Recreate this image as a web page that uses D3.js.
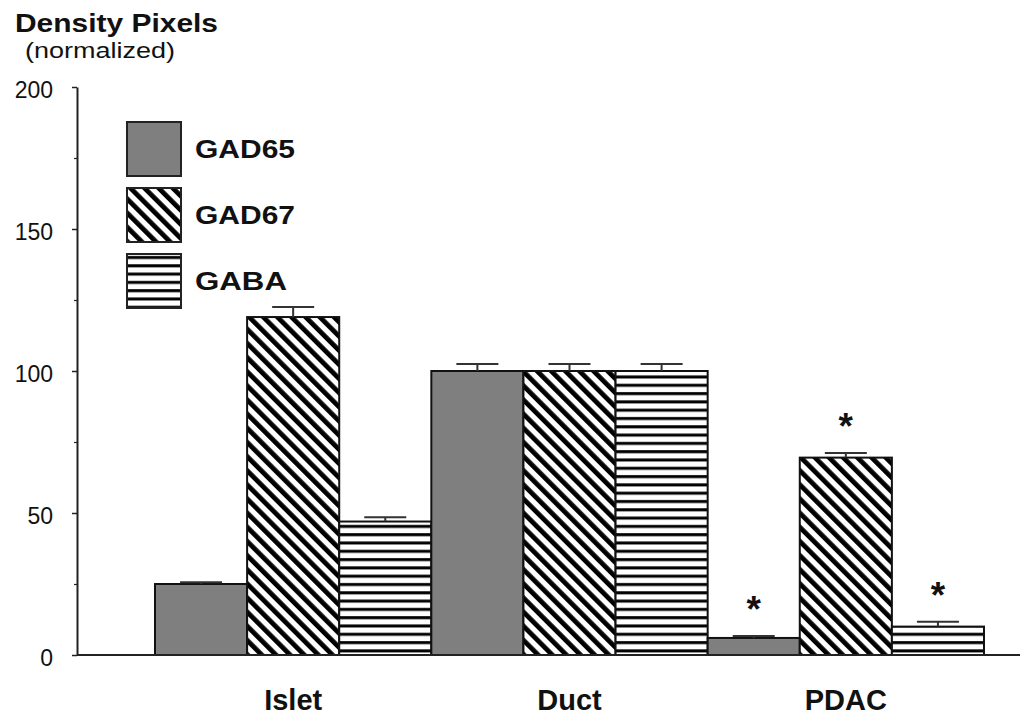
<!DOCTYPE html>
<html>
<head>
<meta charset="utf-8">
<script src="https://cdn.jsdelivr.net/npm/d3@7"></script>
<style>
  body { margin: 0; background: #fff; }
  text { font-family: "Liberation Sans", Arial, sans-serif; fill: #111; }
</style>
</head>
<body>
<div id="chart"></div>
<script>
// Chart data
const categories = ["Islet", "Duct", "PDAC"];
const seriesNames = ["GAD65", "GAD67", "GABA"];
const gad65 = [25, 100, 6];
const gad67 = [119, 100, 69.5];
const gaba = [47, 100, 10];
const gad65Err = [0.6, 2.5, 0.7];
const gad67Err = [3.5, 2.5, 1.6];
const gabaErr = [1.5, 2.5, 1.7];
const gad65Sig = [false, false, true];
const gad67Sig = [false, false, true];
const gabaSig = [false, false, true];
const yTicks = [0, 50, 100, 150, 200];
const yMinorTicks = [25, 75, 125, 175];

const width = 1026;
const height = 717;

const svg = d3.select("#chart")
    .append("svg")
    .attr("width", width)
    .attr("height", height);

// fill patterns
const defs = svg.append("defs");
const diag = defs.append("pattern")
    .attr("id", "diag")
    .attr("patternUnits", "userSpaceOnUse")
    .attr("width", 10)
    .attr("height", 10)
    .attr("patternTransform", "rotate(-45)");
diag.append("rect").attr("width", 10).attr("height", 10).attr("fill", "#fff");
diag.append("rect").attr("width", 4.8).attr("height", 10).attr("fill", "#000");

const horiz = defs.append("pattern")
    .attr("id", "horiz")
    .attr("patternUnits", "userSpaceOnUse")
    .attr("width", 8.3)
    .attr("height", 8.3);
horiz.append("rect").attr("width", 8.3).attr("height", 8.3).attr("fill", "#fff");
horiz.append("rect").attr("y", 2).attr("width", 8.3).attr("height", 3).attr("fill", "#000");

const fills = {GAD65: "#7f7f7f", GAD67: "url(#diag)", GABA: "url(#horiz)"};

// build rows from the arrays
const seriesData = {
    GAD65: {values: gad65, err: gad65Err, sig: gad65Sig},
    GAD67: {values: gad67, err: gad67Err, sig: gad67Sig},
    GABA: {values: gaba, err: gabaErr, sig: gabaSig}
};
const rows = [];
categories.forEach((c, i) => {
    seriesNames.forEach(s => {
        rows.push({
            category: c,
            series: s,
            value: seriesData[s].values[i],
            err: seriesData[s].err[i],
            sig: seriesData[s].sig[i]
        });
    });
});

// scales
const x0 = d3.scaleBand().domain(categories).range([155, 984]).padding(0);
const x1 = d3.scaleBand().domain(seriesNames).range([0, x0.bandwidth()]).padding(0);
const y = d3.scaleLinear().domain([0, 200]).range([655, 87]);

const axisX = 77;

// y axis
svg.append("g")
    .attr("transform", `translate(${axisX},0)`)
    .call(d3.axisLeft(y).tickValues(yTicks).tickSize(5).tickSizeOuter(0).tickPadding(19))
    .call(g => g.select(".domain").attr("stroke", "#222").attr("stroke-width", 2))
    .call(g => g.selectAll(".tick line").attr("stroke", "#222").attr("stroke-width", 1.5))
    .call(g => g.selectAll(".tick text")
        .attr("font-size", 23)
        .attr("font-family", "Liberation Sans, Arial, sans-serif")
        .attr("fill", "#222")
        .attr("dy", "0.45em"));

svg.append("g")
    .attr("transform", `translate(${axisX},0)`)
    .call(d3.axisLeft(y).tickValues(yMinorTicks).tickSize(3).tickFormat(""))
    .call(g => g.select(".domain").remove())
    .call(g => g.selectAll(".tick line").attr("stroke", "#222").attr("stroke-width", 1.2));

// bars
const groups = svg.append("g")
    .selectAll("g")
    .data(categories)
    .enter()
    .append("g")
    .attr("transform", d => `translate(${x0(d)},0)`);

groups.selectAll("rect")
    .data(c => rows.filter(r => r.category === c))
    .enter()
    .append("rect")
    .attr("x", d => x1(d.series))
    .attr("y", d => y(d.value))
    .attr("width", x1.bandwidth())
    .attr("height", d => y(0) - y(d.value))
    .attr("fill", d => fills[d.series])
    .attr("stroke", "#111")
    .attr("stroke-width", 2);

// error bars
const capHalf = 21;
groups.selectAll(".err")
    .data(c => rows.filter(r => r.category === c))
    .enter()
    .append("path")
    .attr("class", "err")
    .attr("d", d => {
        const cx = x1(d.series) + x1.bandwidth() / 2;
        const top = y(d.value + d.err);
        return `M${cx},${y(d.value)}V${top}M${cx - capHalf},${top}H${cx + capHalf}`;
    })
    .attr("fill", "none")
    .attr("stroke", "#333")
    .attr("stroke-width", 2);

// significance stars
groups.selectAll(".star")
    .data(c => rows.filter(r => r.category === c && r.sig))
    .enter()
    .append("text")
    .attr("class", "star")
    .attr("x", d => x1(d.series) + x1.bandwidth() / 2)
    .attr("y", d => y(d.value + d.err) - 14)
    .attr("text-anchor", "middle")
    .attr("font-size", 37)
    .attr("font-weight", "bold")
    .text("*");

// x axis baseline
svg.append("line")
    .attr("x1", axisX)
    .attr("x2", 1020)
    .attr("y1", y(0))
    .attr("y2", y(0))
    .attr("stroke", "#222")
    .attr("stroke-width", 2);

// category labels
svg.append("g")
    .selectAll("text")
    .data(categories)
    .enter()
    .append("text")
    .attr("x", d => x0(d) + x0.bandwidth() / 2)
    .attr("y", 710)
    .attr("text-anchor", "middle")
    .attr("font-size", 29)
    .attr("font-weight", "bold")
    .text(d => d);

// title
svg.append("text")
    .attr("x", 15)
    .attr("y", 32)
    .attr("font-size", 26)
    .attr("font-weight", "bold")
    .attr("textLength", 203)
    .attr("lengthAdjust", "spacingAndGlyphs")
    .text("Density Pixels");

svg.append("text")
    .attr("x", 25)
    .attr("y", 58)
    .attr("font-size", 22)
    .attr("textLength", 150)
    .attr("lengthAdjust", "spacingAndGlyphs")
    .attr("fill", "#222")
    .text("(normalized)");

// legend
const legend = svg.append("g")
    .selectAll("g")
    .data(seriesNames)
    .enter()
    .append("g")
    .attr("transform", (d, i) => `translate(127,${122 + i * 66})`);

legend.append("rect")
    .attr("width", 54)
    .attr("height", 54)
    .attr("fill", d => fills[d])
    .attr("stroke", "#222")
    .attr("stroke-width", 2);

legend.append("text")
    .attr("x", 68)
    .attr("y", 36)
    .attr("font-size", 26)
    .attr("font-weight", "bold")
    .attr("textLength", d => d === "GABA" ? 92 : 100)
    .attr("lengthAdjust", "spacingAndGlyphs")
    .text(d => d);
</script>
</body>
</html>
